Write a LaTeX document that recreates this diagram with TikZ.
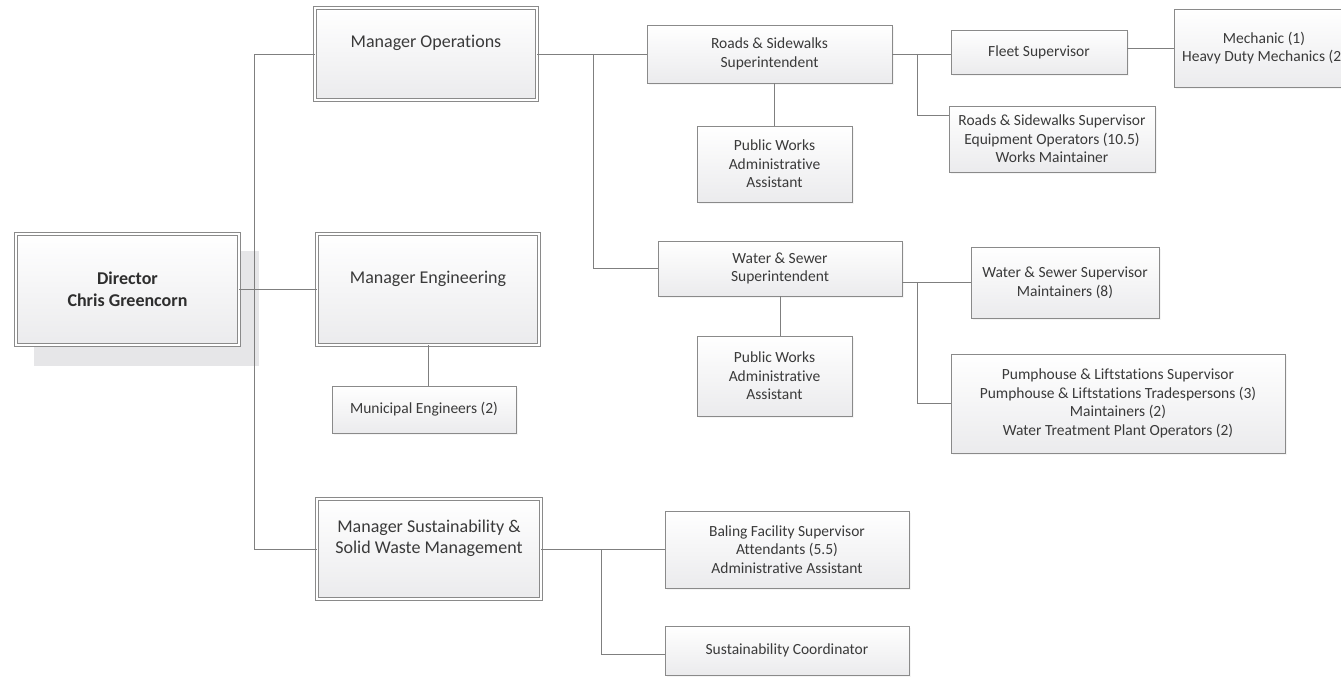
\documentclass[tikz,border=0pt]{standalone}
\usepackage{fontspec}
\setmainfont{Carlito}[Ligatures=NoCommon]
\usetikzlibrary{shadows}

\definecolor{linegray}{HTML}{7F7F7F}
\definecolor{rim}{HTML}{8A8A8A}
\definecolor{ink}{HTML}{3A3A3A}
\definecolor{backdrop}{HTML}{E6E6E8}
\definecolor{boxlow}{HTML}{EBEBED}

\begin{document}
\begin{tikzpicture}[
    x=1pt, y=-1pt,
    line width=0.9pt,
    unit/.style={draw=rim, rectangle, align=center, inner sep=2pt, top color=white, bottom color=boxlow, text=ink,
        font=\fontsize{15.5}{18.6}\selectfont, drop shadow={shadow xshift=2pt, shadow yshift=-2pt, fill=black!8}},
    dbl/.style={draw=rim, double=white, double distance=2.4pt, rectangle, align=center, inner sep=2pt, top color=white, bottom color=boxlow, text=ink},
    mgr/.style={dbl, font=\fontsize{18}{21.6}\selectfont, text depth=24.5pt},
    head/.style={dbl, text=ink!80!black, font=\bfseries\fontsize{18}{21.6}\selectfont},
    link/.style={draw=linegray}
]
    \useasboundingbox (0,0) rectangle (1341,685);

    % Director and shadow
    \fill[backdrop] (34,251) rectangle (259,366);
    \node[head, minimum width=223pt, minimum height=111pt] (dir) at (127.5,289.5) {Director\\Chris Greencorn};

    % Managers
    \node[mgr, minimum width=222pt, minimum height=92pt] (mOps) at (426,54) {Manager Operations};
    \node[mgr, minimum width=222pt, minimum height=111pt] (mEng) at (428,289.5) {Manager Engineering};
    \node[mgr, minimum width=224pt, minimum height=100pt] (mSus) at (429,549) {Manager Sustainability \&\\Solid Waste Management};

    % Operations
    \node[unit, minimum width=245pt, minimum height=58pt] (rsSup) at (769.5,54) {Roads \& Sidewalks\\Superintendent};
    \node[unit, minimum width=155pt, minimum height=76pt] (pwAdmA) at (774.5,164) {Public Works\\Administrative\\Assistant};
    \node[unit, minimum width=176pt, minimum height=44pt] (fleet) at (1039,52) {Fleet Supervisor};
    \node[unit, minimum width=180pt, minimum height=78pt] (mech) at (1264,48) {Mechanic (1)\\Heavy Duty Mechanics (2)};
    \node[unit, minimum width=206pt, minimum height=66pt] (rsCrew) at (1052,139) {Roads \& Sidewalks Supervisor\\Equipment Operators (10.5)\\Works Maintainer};
    \node[unit, minimum width=244pt, minimum height=55pt] (wsSup) at (780,268.5) {Water \& Sewer\\Superintendent};
    \node[unit, minimum width=155pt, minimum height=80pt] (pwAdmB) at (774.5,376) {Public Works\\Administrative\\Assistant};
    \node[unit, minimum width=188pt, minimum height=71pt] (wsCrew) at (1065,282.5) {Water \& Sewer Supervisor\\Maintainers (8)};
    \node[unit, minimum width=334pt, minimum height=99pt] (pump) at (1118,403.5) {Pumphouse \& Liftstations Supervisor\\Pumphouse \& Liftstations Tradespersons (3)\\Maintainers (2)\\Water Treatment Plant Operators (2)};

    % Engineering
    \node[unit, minimum width=184pt, minimum height=47pt] (muni) at (424,409.5) {Municipal Engineers (2)};

    % Sustainability
    \node[unit, minimum width=244pt, minimum height=77pt] (baling) at (787,549.5) {Baling Facility Supervisor\\Attendants (5.5)\\Administrative Assistant};
    \node[unit, minimum width=244pt, minimum height=49pt] (susCo) at (787,650.5) {Sustainability Coordinator};

    % Forks
    \coordinate (trunk) at (254,0);
    \coordinate (opsFork) at (593,54);
    \coordinate (rsFork) at (917,54);
    \coordinate (wsFork) at (917,282.5);
    \coordinate (susFork) at (601,549);

    % Connectors
    \draw[link] (mOps.west) -| (trunk |- mSus.west) -- (mSus.west);
    \draw[link] (dir.east) -- (mEng.west);
    \draw[link] (mEng.south) -- (mEng.south |- muni.north);
    \draw[link] (mOps.east) -- (rsSup.west);
    \draw[link] (opsFork) |- (wsSup.west);
    \draw[link] (rsSup.east) -- (fleet.west |- rsSup.east);
    \draw[link] (fleet.east |- mech.west) -- (mech.west);
    \draw[link] (rsFork) |- ([yshift=-10pt]rsCrew.north west);
    \draw[link] (pwAdmA.north |- rsSup.south) -- (pwAdmA.north);
    \draw[link] (wsSup.south) -- (wsSup.south |- pwAdmB.north);
    \draw[link] (wsCrew.west -| wsSup.east) -- (wsCrew.west);
    \draw[link] (wsFork) |- (pump.west);
    \draw[link] (mSus.east) -- (baling.west |- mSus.east);
    \draw[link] (susFork) |- ([yshift=-3.5pt]susCo.west);

\end{tikzpicture}
\end{document}
